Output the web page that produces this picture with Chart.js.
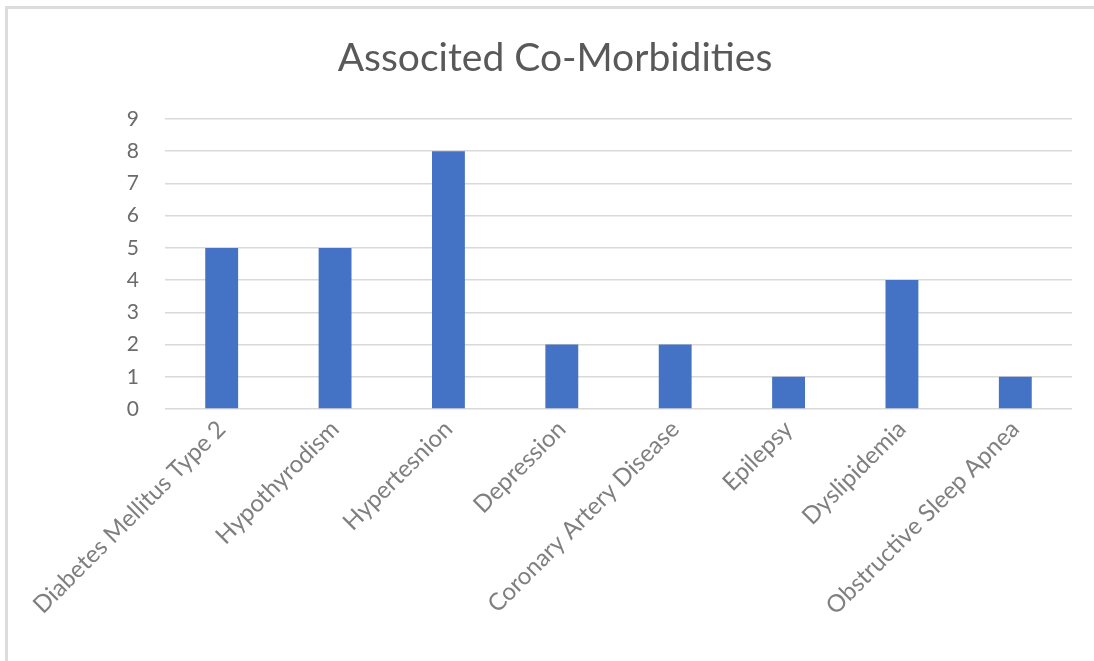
<!DOCTYPE html>
<html>
<head>
<meta charset="utf-8">
<script src="https://cdn.jsdelivr.net/npm/chart.js@4.4.0/dist/chart.umd.min.js"></script>
<style>
  html, body { margin: 0; background: #fff; overflow: hidden; }
  #frame { position: absolute; left: 5px; top: 6px; right: 0; bottom: 0;
           border-left: 3px solid #dcdcdc; border-top: 3px solid #dcdcdc; }
  #wrap { position: absolute; left: 0; top: 0; width: 1094px; height: 661px; }
</style>
</head>
<body>
<div id="frame"></div>
<div id="wrap"><canvas id="chart"></canvas></div>
<script>
// Associated co-morbidities bar chart

const chartTitle = 'Associted Co-Morbidities';
const categories = ['Diabetes Mellitus Type 2', 'Hypothyrodism', 'Hypertesnion', 'Depression',
    'Coronary Artery Disease', 'Epilepsy', 'Dyslipidemia', 'Obstructive Sleep Apnea'];
const counts = [5, 5, 8, 2, 2, 1, 4, 1];
const yTicks = [0, 1, 2, 3, 4, 5, 6, 7, 8, 9];

const fontName = 'Lato, "Open Sans", sans-serif';

// draw the title ourselves so it sits where the original one does
const titlePlugin = {
    id: 'plainTitle',
    afterDraw(chart) {
        const ctx = chart.ctx;
        ctx.save();
        ctx.font = '39px ' + fontName;
        ctx.fillStyle = '#595959';
        ctx.textAlign = 'center';
        ctx.textBaseline = 'middle';
        ctx.fillText(chartTitle, 555, 58);
        ctx.restore();
    }
};

const ctx = document.getElementById('chart').getContext('2d');
new Chart(ctx, {
    type: 'bar',
    data: {
        labels: categories,
        datasets: [{
            data: counts,
            backgroundColor: '#4472C4',
            barPercentage: 0.29,
            categoryPercentage: 1
        }]
    },
    options: {
        responsive: true,
        maintainAspectRatio: false,
        animation: false,
        layout: { padding: { top: 119, right: 22, left: 0, bottom: 0 } },
        plugins: { legend: { display: false }, tooltip: { enabled: false } },
        scales: {
            y: {
                min: 0,
                max: 9,
                afterFit: s => { s.width = 165; },
                afterBuildTicks: s => { s.ticks = yTicks.map(v => ({ value: v })); },
                border: { display: false },
                grid: { color: '#d9d9d9', lineWidth: 1.5, drawTicks: false },
                ticks: { color: '#6b6b6b', padding: 26, font: { family: fontName, size: 21 } }
            },
            x: {
                afterFit: s => { s.height = 252; },
                border: { display: false },
                grid: { display: false, drawTicks: false },
                ticks: {
                    color: '#7f7f7f',
                    padding: 6,
                    minRotation: 45,
                    maxRotation: 45,
                    autoSkip: false,
                    font: { family: fontName, size: 24 }
                }
            }
        }
    },
    plugins: [titlePlugin]
});
</script>
</body>
</html>
